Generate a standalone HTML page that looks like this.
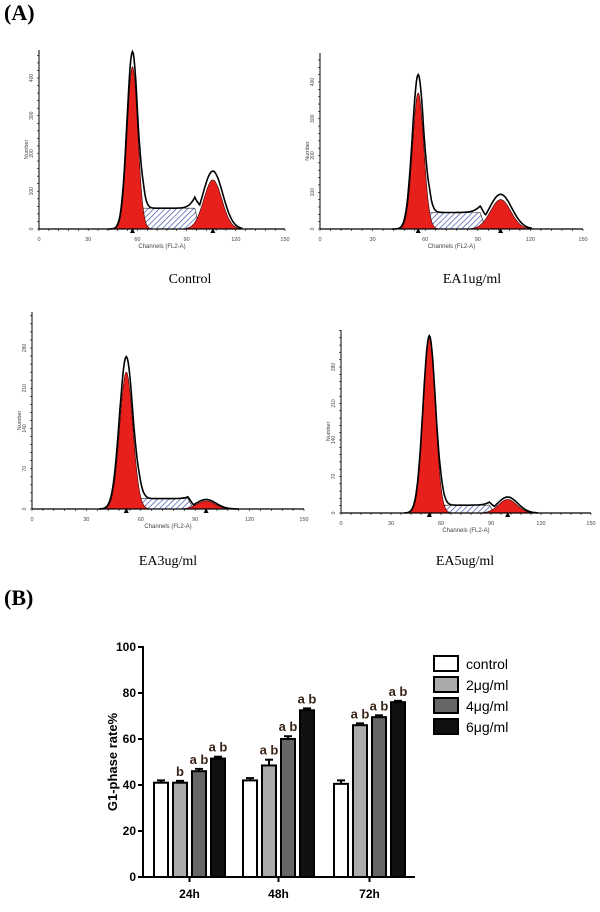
<!DOCTYPE html>
<html><head><meta charset="utf-8"><style>
body{margin:0;background:#fff;width:600px;height:912px;overflow:hidden}
svg{display:block}
</style></head><body>
<svg id="fig" width="600" height="912" xmlns="http://www.w3.org/2000/svg">
<defs>
<pattern id="hatch" patternUnits="userSpaceOnUse" width="4" height="4" patternTransform="rotate(45)">
<rect width="4" height="4" fill="#fff"/><line x1="0" y1="0" x2="0" y2="4" stroke="#3344aa" stroke-width="1.3"/>
</pattern>
</defs>
<text x="4" y="20" font-family="Liberation Serif" font-weight="bold" font-size="22">(A)</text>
<text x="4" y="605" font-family="Liberation Serif" font-weight="bold" font-size="22">(B)</text>
<g id="hists"></g>
<g id="bars"></g>
</svg>
<script>
// Histogram parameters (channel means, heights in counts, widths)
const histNames = ["Control","EA1ug/ml","EA3ug/ml","EA5ug/ml"];
const g1Mean = [57,56,52,53];
const g1Height = [430,370,238,335];
const g1Peak = [470,420,265,340];
const g1Sd = [3.2,3.2,3.6,3.6];
const sHeight = [55,45,18,15];
const g2Mean = [106,103,96,100];
const g2Height = [130,80,14,26];
const g2Sd = [5.5,5.8,5.0,5.5];
const yTickVals = [[0,100,200,300,400],[0,100,200,300,400],[0,70,140,210,280],[0,70,140,210,280]];
const xTickVals = [0,30,60,90,120,150];
// layout per panel
const panels = [
 {x0:39,x1:285,base:229,top:50,yRef:400,yRefPx:78,lx:190,ly:283},
 {x0:320,x1:583,base:229,top:53,yRef:400,yRefPx:82,lx:472,ly:283},
 {x0:32,x1:304,base:509,top:312,yRef:280,yRefPx:348,lx:168,ly:565},
 {x0:341,x1:591,base:513,top:330,yRef:280,yRefPx:367,lx:465,ly:565}
];
const NS="http://www.w3.org/2000/svg";
function mk(tag,attrs,parent){const e=document.createElementNS(NS,tag);for(const k in attrs)e.setAttribute(k,attrs[k]);parent.appendChild(e);return e;}
const H=document.getElementById('hists');
panels.forEach((p,i)=>{
 const g=mk('g',{},H);
 
 
 const sx=c=>p.x0+(p.x1-p.x0)*c/150;
 const sy=v=>p.base-(p.base-p.yRefPx)*v/p.yRef;
 const gauss=(c,m,h,s)=>h*Math.exp(-0.5*((c-m)/s)**2);
 const sfun=c=>{const a=g1Mean[i]+2*g1Sd[i],b=g2Mean[i]-2*g2Sd[i];if(c<a-3||c>b+3)return 0;const e1=Math.min(1,(c-(a-3))/3),e2=Math.min(1,((b+3)-c)/3);return sHeight[i]*Math.min(e1,e2);};
 const cs=[];for(let c=g1Mean[i]-15;c<=g2Mean[i]+18;c+=0.5)cs.push(c);
 let d='M'+sx(cs[0])+','+p.base;cs.forEach(c=>d+=' L'+sx(c).toFixed(1)+','+sy(sfun(c)).toFixed(1));d+=' L'+sx(cs[cs.length-1])+','+p.base+'Z';
 const s=mk('path',{d:d,fill:'url(#hatch)',stroke:'#222','stroke-width':0.6},g);
 
 
 [[g1Mean[i],g1Height[i],g1Sd[i],'g1-peak'],[g2Mean[i],g2Height[i],g2Sd[i],'g2-peak']].forEach(q=>{
  let dd='';for(let c=q[0]-4*q[2];c<=q[0]+4*q[2];c+=0.25)dd+=(dd?' L':'M')+sx(c).toFixed(1)+','+sy(gauss(c,q[0],q[1],q[2])).toFixed(1);
  dd+='Z';const r=mk('path',{d:dd,fill:'#e8201c',stroke:'#300','stroke-width':0.6},g);
  
  
 });
 let de='';cs.forEach(c=>{const v=gauss(c,g1Mean[i],g1Peak[i],g1Sd[i]*1.05)+sfun(c)+gauss(c,g2Mean[i],g2Height[i]*1.18,g2Sd[i]*1.1);de+=(de?' L':'M')+sx(c).toFixed(1)+','+sy(v).toFixed(1);});
 const e=mk('path',{d:de,fill:'none',stroke:'#000','stroke-width':1.6},g);
 
 
 const ax=p.x0;
 mk('line',{x1:ax,y1:p.base,x2:p.x1,y2:p.base,stroke:'#000','stroke-width':1.2},g);
 mk('line',{x1:ax,y1:p.base,x2:ax,y2:p.top,stroke:'#000','stroke-width':1},g);
 for(let y=p.base;y>p.top;y-=(p.base-p.yRefPx)/20)mk('line',{x1:ax-2,y1:y,x2:ax,y2:y,stroke:'#000','stroke-width':0.6},g);
 yTickVals[i].forEach(v=>{const t=mk('text',{x:ax-6,y:sy(v),'font-size':5,'font-family':'Liberation Sans',fill:'#444','text-anchor':'middle',transform:'rotate(-90 '+(ax-6)+' '+sy(v)+')'},g);t.textContent=v;
  
  });
 const yl=mk('text',{x:ax-11,y:(p.base+p.top)/2+10,'font-size':5.5,'font-family':'Liberation Sans',fill:'#444','text-anchor':'middle',transform:'rotate(-90 '+(ax-11)+' '+((p.base+p.top)/2+10)+')'},g);yl.textContent='Number';
 
 
 for(let c=0;c<=150;c+=6)mk('line',{x1:sx(c),y1:p.base,x2:sx(c),y2:p.base+2,stroke:'#000','stroke-width':0.6},g);
 xTickVals.forEach(v=>{const t=mk('text',{x:sx(v),y:p.base+12,'font-size':5.5,'font-family':'Liberation Sans',fill:'#444','text-anchor':'middle'},g);t.textContent=v;
  
  });
 const xl=mk('text',{x:sx(75),y:p.base+19,'font-size':6,'font-family':'Liberation Sans',fill:'#444','text-anchor':'middle'},g);xl.textContent='Channels (FL2-A)';
 
 
 [g1Mean[i],g2Mean[i]].forEach(m=>{const x=sx(m);mk('path',{d:`M${x-2.5},${p.base+4} L${x+2.5},${p.base+4} L${x},${p.base-1}Z`,fill:'#000'},g);});
 const lab=mk('text',{x:p.lx,y:p.ly,'font-size':14,'font-family':'Liberation Serif',fill:'#000','text-anchor':'middle'},g);lab.textContent=histNames[i];
 
 
});

// Bar chart data
const groups=["24h","48h","72h"];
const series=["control","2μg/ml","4μg/ml","6μg/ml"];
const vals=[[41,42,40.5],[41,48.5,66],[46,60,69.5],[51.5,72.5,76]];
const errs=[[1,1,1.5],[0.8,2.5,0.8],[1,1.2,0.8],[0.8,0.8,0.6]];
const marks=[["","",""],["b","a b","a b"],["a b","a b","a b"],["a b","a b","a b"]];
const yTicks=[0,20,40,60,80,100];
const fills=["#fff","#aaa","#666","#111"];
const B=document.getElementById('bars');
const Y=v=>877-v*2.3;
const bw=14, gx=[154,243,334];
vals.forEach((sv,si)=>sv.forEach((v,gi)=>{
 const x=gx[gi]+si*19;
 const r=mk('rect',{x:x,y:Y(v),width:bw,height:877-Y(v),fill:fills[si],stroke:'#000','stroke-width':2},B);
 
 
 const ye=Y(v+errs[si][gi]);
 mk('line',{x1:x+bw/2,y1:Y(v),x2:x+bw/2,y2:ye,stroke:'#000','stroke-width':2},B);
 mk('line',{x1:x+bw/2-4,y1:ye,x2:x+bw/2+4,y2:ye,stroke:'#000','stroke-width':2},B);
 if(marks[si][gi]){const t=mk('text',{x:x+bw/2,y:ye-5,'font-size':13,'font-weight':'bold','font-family':'Liberation Sans',fill:'#3a2418','text-anchor':'middle'},B);t.textContent=marks[si][gi];
  
  }
}));
mk('line',{x1:143,y1:877,x2:415,y2:877,stroke:'#000','stroke-width':2},B);
mk('line',{x1:143,y1:877,x2:143,y2:646,stroke:'#000','stroke-width':2},B);
yTicks.forEach(v=>{mk('line',{x1:138,y1:Y(v),x2:143,y2:Y(v),stroke:'#000','stroke-width':2},B);
 const t=mk('text',{x:136,y:Y(v)+4,'font-size':12,'font-weight':'bold','font-family':'Liberation Sans','text-anchor':'end'},B);t.textContent=v;
 
 });
groups.forEach((gname,gi)=>{const cx=gx[gi]+(3*19+bw)/2;mk('line',{x1:cx,y1:877,x2:cx,y2:882,stroke:'#000','stroke-width':2},B);
 const t=mk('text',{x:cx,y:898,'font-size':12,'font-weight':'bold','font-family':'Liberation Sans','text-anchor':'middle'},B);t.textContent=gname;
 
 });
const yt=mk('text',{x:117,y:762,'font-size':13,'font-weight':'bold','font-family':'Liberation Sans','text-anchor':'middle',transform:'rotate(-90 117 762)'},B);yt.textContent='G1-phase rate%';


series.forEach((s,si)=>{const y=656+si*21;
 const r=mk('rect',{x:434,y:y,width:24,height:15,fill:fills[si],stroke:'#000','stroke-width':2},B);
 
 
 const t=mk('text',{x:466,y:y+13,'font-size':14,'font-family':'Liberation Sans'},B);t.textContent=s;
 
 });
</script>
</body></html>
